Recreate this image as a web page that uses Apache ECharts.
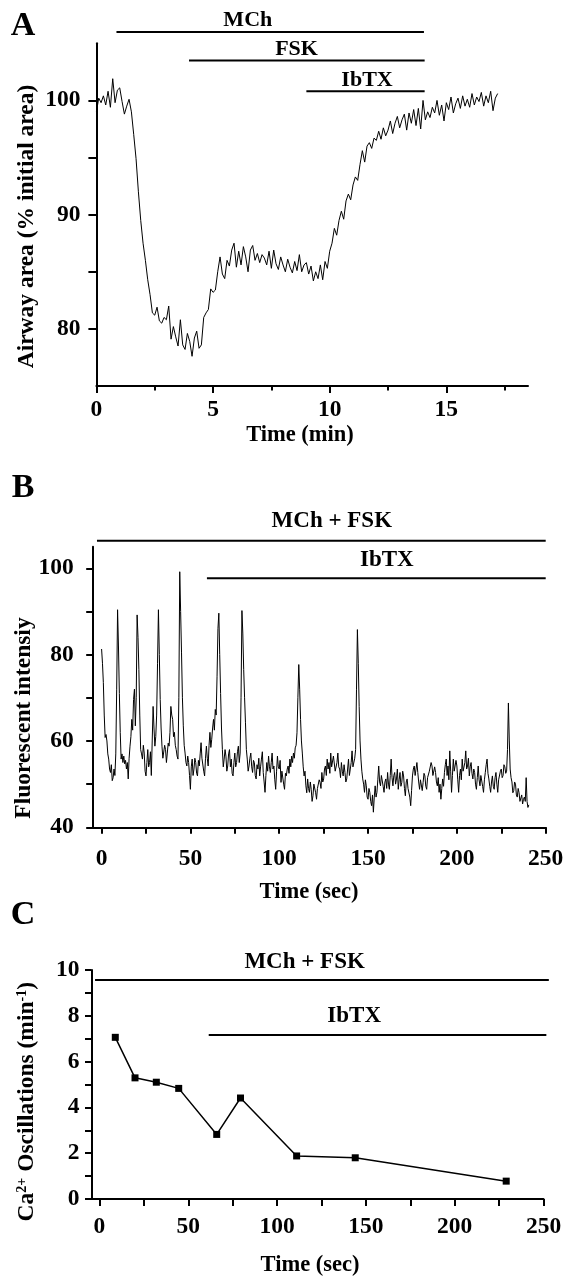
<!DOCTYPE html>
<html>
<head>
<meta charset="utf-8">
<script src="https://cdn.jsdelivr.net/npm/echarts@6/dist/echarts.min.js"></script>
<style>
html, body { margin: 0; padding: 0; background: #ffffff; }
#chart { width: 575px; height: 1276px; }
</style>
</head>
<body>
<div id="chart"></div>
<script>
// ---------------- Panel A: airway area (% initial), sampled every 0.1 min ----------------
const aStartMin = 0;
const aStepMin = 0.1;
const aAirwayArea = [
  99.0, 100.2, 99.8, 100.4, 99.6, 100.8, 99.4, 101.9, 99.8, 100.9,
  101.1, 99.9, 98.8, 99.5, 100.1, 99.0, 97.0, 94.9, 92.0, 89.5,
  87.5, 86.0, 84.3, 83.0, 81.4, 81.2, 81.9, 80.7, 80.5, 81.0,
  80.8, 82.0, 79.1, 80.2, 79.3, 78.5, 80.8, 78.6, 78.2, 79.6,
  78.9, 77.6, 79.2, 79.8, 78.3, 78.6, 81.0, 81.4, 81.7, 83.5,
  83.2, 83.4, 85.0, 86.3, 84.8, 84.4, 86.0, 85.5, 86.9, 87.5,
  85.4, 86.8, 85.6, 87.2, 86.3, 85.0, 86.9, 87.3, 86.0, 86.6,
  85.8, 86.5, 86.2, 85.6, 86.8, 85.3, 86.9, 85.7, 85.2, 86.3,
  85.6, 85.0, 86.1, 85.4, 84.9, 85.9, 85.1, 86.5, 85.0, 85.6,
  85.8, 84.8, 85.5, 84.2, 85.0, 84.4, 85.6, 84.3, 85.9, 85.3,
  86.8, 87.5, 88.8, 88.2, 89.5, 90.3, 89.6, 91.2, 91.8, 91.3,
  92.6, 93.3, 93.0, 94.4, 95.6, 94.6, 96.0, 96.3, 95.8, 96.7,
  96.5, 97.3, 96.6, 97.6, 96.9, 97.4, 98.2, 97.1, 98.0, 98.6,
  97.6, 98.3, 98.8, 97.4, 98.9, 98.0, 99.2, 97.8, 99.3, 97.5,
  100.0, 98.3, 99.0, 98.5, 99.4, 98.9, 100.0, 98.7, 99.6, 98.2,
  99.8, 99.2, 100.3, 98.9, 99.7, 100.2, 99.3, 100.4, 99.5, 100.1,
  99.4, 100.6, 99.6, 100.3, 99.9, 100.7, 99.5, 100.4, 99.8, 100.8,
  99.1, 100.2, 100.6
];
const aXMajorTicks = [0, 5, 10, 15];
const aXMinorTicks = [2.5, 7.5, 12.5, 17.5];
const aXLabels = [0, 5, 10, 15];
const aYTicks = [80, 85, 90, 95, 100];
const aYLabels = [80, 90, 100];
// treatment bars: name, start, end, bar level, label position (data units)
const aTreatments = [
  { name: 'MCh',  from: 0.86, to: 14.04, level: 106.0, labelAt: 6.49,  labelLevel: 107.0 },
  { name: 'FSK',  from: 3.97, to: 14.07, level: 103.5, labelAt: 8.58,  labelLevel: 104.5 },
  { name: 'IbTX', from: 9.0,  to: 14.07, level: 100.8, labelAt: 11.6,  labelLevel: 101.8 }
];

// ---------------- Panel B: fluorescent intensity, sampled every 0.5 s ----------------
const bStartSec = 0;
const bStepSec = 0.5;
const bIntensity = [
  // 0 - 9.5 s
  81.3, 78.0, 73.5, 66.0, 60.8, 61.5, 60.0, 57.0, 55.8, 53.5, 52.7, 54.5, 50.8, 51.5, 53.5, 52.0, 57.0, 72.0, 90.4, 82.0,
  // 10 - 19.5 s
  71.0, 62.0, 55.8, 57.0, 55.0, 56.5, 54.7, 55.5, 53.5, 55.0, 51.2, 56.0, 58.8, 61.0, 65.0, 62.5, 69.6, 72.0, 63.5, 70.0,
  // 20 - 29.5 s
  89.2, 84.0, 76.5, 66.0, 58.0, 57.0, 55.8, 59.0, 57.2, 53.0, 51.9, 55.0, 58.0, 54.0, 55.0, 57.5, 52.0, 60.0, 68.0, 63.0,
  // 30 - 39.5 s
  58.8, 61.0, 66.0, 78.0, 90.4, 80.0, 69.6, 63.0, 58.8, 56.0, 55.8, 59.0, 58.0, 55.0, 57.2, 59.5, 58.8, 62.0, 68.0, 66.0,
  // 40 - 49.5 s
  65.0, 61.0, 62.0, 59.0, 58.0, 56.5, 55.8, 70.0, 99.2, 90.0, 80.4, 70.0, 63.5, 59.0, 57.2, 55.0, 54.2, 56.5, 55.0, 52.0,
  // 50 - 59.5 s
  48.8, 54.0, 55.8, 52.0, 53.5, 56.0, 55.0, 52.5, 51.9, 55.5, 54.2, 57.0, 59.6, 56.0, 55.8, 53.0, 51.9, 56.0, 58.8, 56.0,
  // 60 - 69.5 s
  54.2, 59.0, 62.0, 58.5, 60.4, 63.0, 65.0, 62.5, 67.3, 66.0, 75.0, 86.0, 89.6, 80.0, 71.0, 63.0, 58.0, 54.0, 55.8, 58.0,
  // 70 - 79.5 s
  56.5, 53.0, 54.2, 57.0, 58.0, 54.0, 55.8, 52.5, 51.9, 55.0, 57.2, 54.0, 55.0, 57.5, 58.8, 55.0, 57.2, 70.0, 90.2, 85.0,
  // 80 - 89.5 s
  76.5, 70.0, 64.2, 58.0, 55.8, 53.0, 54.2, 56.0, 57.2, 54.0, 52.7, 55.5, 55.0, 52.0, 51.2, 54.5, 53.5, 56.0, 51.9, 54.0,
  // 90 - 99.5 s
  55.8, 57.5, 52.7, 50.5, 48.1, 52.0, 55.0, 53.0, 56.5, 54.0, 52.7, 55.0, 57.2, 53.5, 54.2, 51.0, 48.8, 53.0, 56.5, 54.0,
  // 100 - 109.5 s
  53.5, 55.5, 50.4, 53.0, 52.7, 50.0, 48.8, 52.5, 51.9, 53.5, 54.2, 52.5, 55.8, 54.0, 56.5, 55.0, 57.2, 56.0, 58.4, 59.0,
  // 110 - 119.5 s
  61.9, 70.0, 77.7, 72.0, 65.0, 60.0, 57.2, 54.0, 51.9, 53.0, 49.6, 48.0, 51.2, 49.0, 48.1, 50.5, 48.8, 46.0, 47.3, 50.0,
  // 120 - 129.5 s
  49.6, 48.0, 46.5, 49.0, 48.8, 51.0, 50.4, 49.0, 52.7, 50.5, 51.2, 53.5, 54.2, 52.0, 55.8, 53.5, 55.0, 52.5, 57.2, 54.0,
  // 130 - 139.5 s
  54.2, 56.5, 56.5, 53.0, 52.7, 55.0, 57.2, 54.0, 53.5, 51.5, 55.0, 53.0, 51.9, 54.5, 52.7, 50.5, 51.2, 53.5, 55.8, 52.0,
  // 140 - 149.5 s
  53.5, 55.0, 57.7, 54.0, 54.2, 56.0, 58.0, 72.0, 85.8, 78.0, 68.0, 60.0, 55.8, 53.0, 51.2, 50.0, 48.1, 51.0, 49.6, 47.0,
  // 150 - 159.5 s
  46.5, 49.0, 48.1, 46.0, 45.0, 47.5, 43.5, 47.0, 49.6, 47.0, 48.1, 51.0, 54.2, 50.5, 49.6, 52.0, 51.9, 49.5, 48.1, 50.5,
  // 160 - 169.5 s
  51.2, 49.0, 52.7, 50.0, 48.8, 52.0, 55.8, 51.5, 49.6, 52.0, 52.7, 50.0, 51.2, 53.5, 48.8, 51.0, 52.7, 49.5, 50.4, 53.0,
  // 170 - 179.5 s
  51.9, 49.0, 47.3, 50.5, 51.2, 49.0, 48.8, 47.0, 45.0, 48.5, 51.9, 53.5, 54.2, 52.0, 53.5, 55.0, 52.7, 50.5, 48.8, 51.0,
  // 180 - 189.5 s
  51.2, 48.5, 50.4, 52.5, 51.9, 49.5, 48.8, 51.5, 51.2, 53.0, 52.7, 55.0, 54.2, 52.0, 51.9, 54.0, 52.7, 50.5, 49.6, 51.5,
  // 190 - 199.5 s
  48.1, 50.0, 46.5, 49.0, 51.2, 49.5, 52.7, 54.5, 55.8, 52.0, 54.2, 51.0, 57.7, 53.0, 48.1, 52.0, 55.8, 53.0, 52.7, 55.5,
  // 200 - 209.5 s
  54.2, 51.0, 48.1, 52.0, 53.5, 51.0, 55.8, 53.0, 52.7, 55.0, 57.7, 53.5, 54.2, 56.0, 51.9, 54.0, 55.0, 52.5, 51.2, 53.5,
  // 210 - 219.5 s
  52.7, 50.0, 48.8, 51.5, 54.2, 51.0, 49.6, 52.0, 51.9, 49.5, 48.1, 51.0, 52.7, 54.5, 55.8, 52.5, 51.2, 49.5, 48.1, 50.5,
  // 220 - 229.5 s
  51.9, 49.5, 48.8, 51.5, 52.7, 50.0, 48.1, 51.0, 51.2, 53.0, 53.5, 51.5, 52.0, 54.5, 54.0, 52.5, 53.0, 58.0, 68.8, 60.0,
  // 230 - 240.5 s
  53.5, 51.5, 50.5, 48.0, 48.5, 50.5, 50.0, 47.5, 47.0, 49.0, 48.0, 46.0, 46.0, 47.5, 45.4, 46.5, 47.0, 46.0, 51.5, 46.0,
  44.6, 45.2
];
const bXTicks = [0, 25, 50, 75, 100, 125, 150, 175, 200, 225, 250];
const bXLabels = [0, 50, 100, 150, 200, 250];
const bYTicks = [40, 50, 60, 70, 80, 90, 100];
const bYLabels = [40, 60, 80, 100];
const bTreatments = [
  { name: 'MCh + FSK', from: -2.6, to: 250, level: 106.4, labelAt: 129.6, labelLevel: 111.0 },
  { name: 'IbTX',      from: 59.3, to: 250, level: 97.7,  labelAt: 160.6, labelLevel: 101.8 }
];

// ---------------- Panel C: Ca2+ oscillation frequency ----------------
const cTimeSec = [8.9, 20.0, 32.0, 44.6, 66.0, 79.4, 111.0, 144.0, 229.0];
const cOscPerMin = [7.06, 5.29, 5.10, 4.83, 2.82, 4.41, 1.88, 1.80, 0.78];
const cXTicks = [0, 25, 50, 75, 100, 125, 150, 175, 200, 225, 250];
const cXLabels = [0, 50, 100, 150, 200, 250];
const cYTicks = [0, 1, 2, 3, 4, 5, 6, 7, 8, 9, 10];
const cYLabels = [0, 2, 4, 6, 8, 10];
const cTreatments = [
  { name: 'MCh + FSK', from: -2.5, to: 253,   level: 9.56, labelAt: 115.5, labelLevel: 10.35 },
  { name: 'IbTX',      from: 61.5, to: 251.6, level: 7.16, labelAt: 143.4, labelLevel: 7.99 }
];

// ---------------- styling ----------------
const FONT = '"Liberation Serif", "Times New Roman", Times, serif';
const INK = '#000000';
const tickFont = { fontFamily: FONT, fontWeight: 'bold', fontSize: 23.5, color: INK };

function xAxisCfg(grid, min, max, ticks, labels, tickLen, labelMargin) {
  return {
    type: 'value', gridIndex: grid, min: min, max: max, position: 'bottom',
    axisLine: { show: true, onZero: false, lineStyle: { color: INK, width: 2 } },
    axisTick: { show: true, inside: false, customValues: ticks, length: tickLen, lineStyle: { color: INK, width: 2 } },
    axisLabel: Object.assign({ show: true, customValues: labels, margin: labelMargin }, tickFont),
    splitLine: { show: false }
  };
}
function yAxisCfg(grid, min, max, ticks, labels, tickLen, labelMargin) {
  return {
    type: 'value', gridIndex: grid, min: min, max: max, position: 'left',
    axisLine: { show: true, onZero: false, lineStyle: { color: INK, width: 2 } },
    axisTick: { show: true, inside: false, customValues: ticks, length: tickLen, lineStyle: { color: INK, width: 2 } },
    axisLabel: Object.assign({ show: true, customValues: labels, margin: labelMargin, align: 'right' }, tickFont),
    splitLine: { show: false }
  };
}
function treatmentSeries(list, axisIdx, fontSize) {
  return {
    type: 'custom', xAxisIndex: axisIdx, yAxisIndex: axisIdx, clip: false, silent: true,
    animation: false, z: 5,
    data: list.map(t => [t.from, t.level, t.to, t.labelAt, t.labelLevel]),
    renderItem: function (params, api) {
      const p1 = api.coord([api.value(0), api.value(1)]);
      const p2 = api.coord([api.value(2), api.value(1)]);
      const pl = api.coord([api.value(3), api.value(4)]);
      return {
        type: 'group',
        children: [
          { type: 'line', shape: { x1: p1[0], y1: p1[1], x2: p2[0], y2: p2[1] },
            style: { stroke: INK, lineWidth: 2 } },
          { type: 'text', x: pl[0], y: pl[1],
            style: { text: list[params.dataIndex].name, fill: INK,
                     font: 'bold ' + fontSize + 'px ' + FONT, align: 'center', verticalAlign: 'middle' } }
        ]
      };
    }
  };
}
function textEl(str, x, y, size, rotate) {
  return {
    type: 'text', x: x, y: y, rotation: rotate ? Math.PI / 2 : 0, silent: true,
    style: { text: str, fill: INK, font: 'bold ' + size + 'px ' + FONT, align: 'center', verticalAlign: 'middle' }
  };
}

const chart = echarts.init(document.getElementById('chart'), null, { renderer: 'canvas' });

const option = {
  backgroundColor: '#ffffff',
  animation: false,
  grid: [
    { left: 96.4, right: 47,   top: 43.3, height: 342.7, containLabel: false },
    { left: 92.7, right: 29.3, top: 546.7, height: 280.6, containLabel: false },
    { left: 91.5, right: 31.5, top: 970,  height: 229,   containLabel: false }
  ],
  xAxis: [
    xAxisCfg(0, 0, 18.5, aXMajorTicks, aXLabels, 7, 12),
    xAxisCfg(1, -5, 250, bXTicks, bXLabels, 6.5, 20),
    xAxisCfg(2, -4.5, 250, cXTicks, cXLabels, 7, 16),
    Object.assign(xAxisCfg(0, 0, 18.5, aXMinorTicks, [], 4.5, 12), {
      axisLine: { show: false, onZero: false },
      axisLabel: { show: false }
    })
  ],
  yAxis: [
    yAxisCfg(0, 75, 105, aYTicks, aYLabels, 8, 16),
    yAxisCfg(1, 40, 105, bYTicks, bYLabels, 6.5, 19),
    yAxisCfg(2, 0, 10, cYTicks, cYLabels, 6.5, 12)
  ],
  series: [
    {
      type: 'line', xAxisIndex: 0, yAxisIndex: 0, showSymbol: false, silent: true,
      lineStyle: { color: INK, width: 1 },
      data: aAirwayArea.map((v, i) => [aStartMin + i * aStepMin, v])
    },
    {
      type: 'line', xAxisIndex: 1, yAxisIndex: 1, showSymbol: false, silent: true,
      lineStyle: { color: INK, width: 1 },
      data: bIntensity.map((v, i) => [bStartSec + i * bStepSec, v])
    },
    {
      type: 'line', xAxisIndex: 2, yAxisIndex: 2, silent: true,
      symbol: 'rect', symbolSize: 7, showSymbol: true,
      itemStyle: { color: INK },
      lineStyle: { color: INK, width: 1.5 },
      data: cTimeSec.map((t, i) => [t, cOscPerMin[i]])
    },
    treatmentSeries(aTreatments, 0, 22),
    treatmentSeries(bTreatments, 1, 23),
    treatmentSeries(cTreatments, 2, 23)
  ],
  graphic: [
    textEl('A', 23, 26, 34, false),
    textEl('B', 23, 488, 34, false),
    textEl('C', 23, 915, 34, false),
    textEl('Airway area (% initial area)', 27, 226.5, 23.5, true),
    textEl('Fluorescent intensiy', 24, 718, 23.5, true),
    {
      type: 'text', x: 27, y: 1101.7, rotation: Math.PI / 2, silent: true,
      style: {
        text: '{n|Ca}{s|2+}{n| Oscillations (min}{s|-1}{n|)}',
        fill: INK, align: 'center', verticalAlign: 'middle',
        rich: {
          n: { font: 'bold 23.5px ' + FONT, fill: INK },
          s: { font: 'bold 14px ' + FONT, fill: INK, verticalAlign: 'top', padding: [0, 0, 6, 0] }
        }
      }
    },
    textEl('Time (min)', 300, 435, 22.5, false),
    textEl('Time (sec)', 309, 892.5, 22.5, false),
    textEl('Time (sec)', 310, 1265.5, 22.5, false)
  ]
};
chart.setOption(option);
</script>
</body>
</html>
